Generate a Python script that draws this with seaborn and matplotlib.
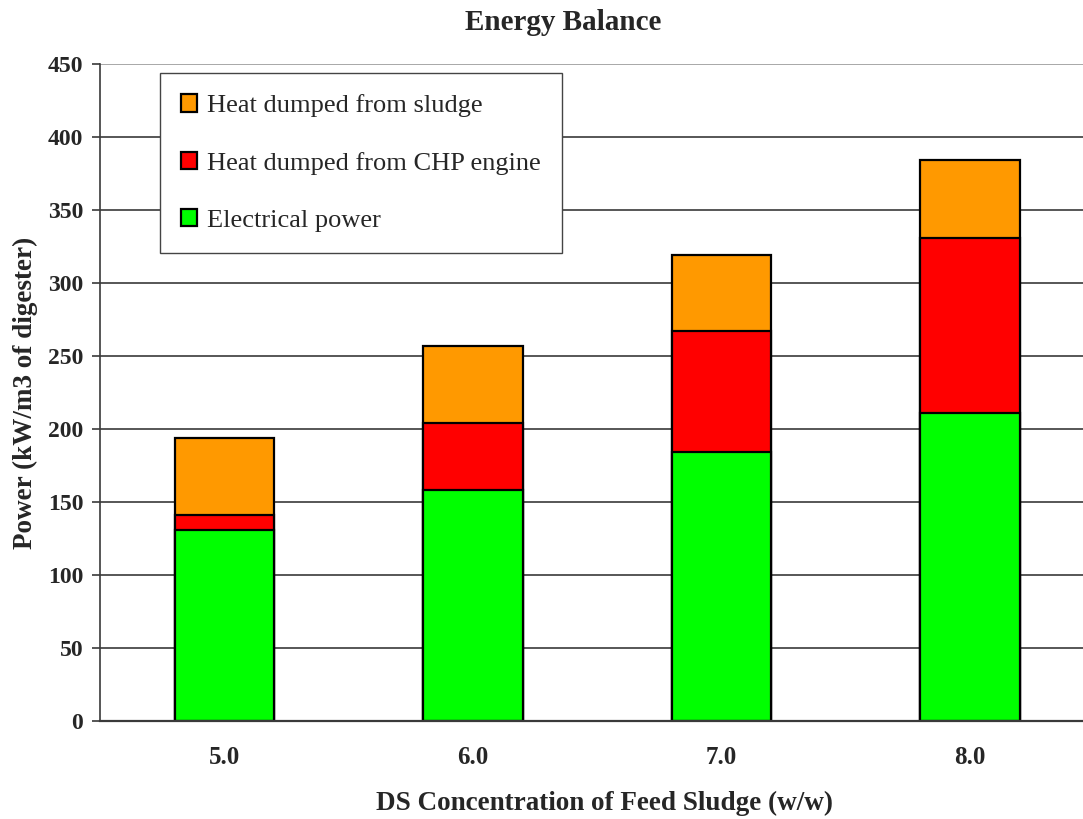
import matplotlib
matplotlib.use("Agg")
import matplotlib.pyplot as plt
import seaborn as sns
import pandas as pd
import numpy as np

categories = ["5.0", "6.0", "7.0", "8.0"]
electrical_power = [131, 158, 184, 211]
heat_chp = [10, 46, 83, 120]
heat_sludge = [53, 53, 52, 53]
yticks = [0, 50, 100, 150, 200, 250, 300, 350, 400, 450]

sns.set_theme(style="white")
plt.rcParams['font.family'] = ['Liberation Serif', 'DejaVu Serif']

df = pd.DataFrame({
    "cat": categories,
    "elec": electrical_power,
    "chp": heat_chp,
    "sludge": heat_sludge,
})
df["lvl2"] = df["elec"] + df["chp"]
df["lvl3"] = df["lvl2"] + df["sludge"]

fig = plt.figure(figsize=(10.83, 8.19), dpi=100)
ax = fig.add_axes([100/1083, 1-721/819, 983/1083, (721-64)/819])

ax.set_axisbelow(True)
for y in yticks[1:]:
    ax.axhline(y, color="#3a3a3a" if y < 450 else "#9a9a9a", lw=1.2, zorder=0)

kw = dict(width=0.40, edgecolor="black", linewidth=1.6, ax=ax, order=categories)
sns.barplot(data=df, x="cat", y="lvl3", color="#FF9900", saturation=1, label="Heat dumped from sludge", **kw)
sns.barplot(data=df, x="cat", y="lvl2", color="#FF0000", saturation=1, label="Heat dumped from CHP engine", **kw)
sns.barplot(data=df, x="cat", y="elec", color="#00FF00", saturation=1, label="Electrical power", **kw)

ax.set_xlim(-0.5, 3.454)
ax.set_ylim(0, 450)
ax.set_yticks(yticks)
ax.set_yticklabels([str(v) for v in yticks], fontsize=17, fontweight="bold")
ax.set_xticks(range(len(categories)))
ax.set_xticklabels(categories, fontsize=18, fontweight="bold")
ax.tick_params(axis="x", length=0, pad=18)
ax.tick_params(axis="y", length=6, width=1.2, color="#3a3a3a", pad=6, direction="out", left=True)

for s in ["top", "right"]:
    ax.spines[s].set_visible(False)
ax.spines["left"].set_color("#3a3a3a")
ax.spines["left"].set_linewidth(1.2)
ax.spines["bottom"].set_color("#3a3a3a")
ax.spines["bottom"].set_linewidth(1.6)

ax.set_xlabel("DS Concentration of Feed Sludge (w/w)", fontsize=19.5, fontweight="bold", va="center")
ax.xaxis.set_label_coords(0.513, -0.125)
ax.set_ylabel("Power (kW/m3 of digester)", fontsize=19.5, fontweight="bold", va="center")
ax.yaxis.set_label_coords(-0.0763, 0.5)

fig.text(563/1083, 1-23/819, "Energy Balance", fontsize=21, fontweight="bold", ha="center", va="center")

handles, labels = ax.get_legend_handles_labels()
leg = ax.legend(handles, labels, loc="upper left", bbox_to_anchor=(0.061, 0.986),
                borderaxespad=0, fancybox=False, frameon=True, fontsize=19,
                labelspacing=1.3, handlelength=0.62, handleheight=0.62,
                handletextpad=0.35, borderpad=0.8)
leg.get_frame().set_edgecolor("#444444")
leg.get_frame().set_linewidth(1.0)
leg.get_frame().set_alpha(1)

fig.savefig("out.png", dpi=100)
